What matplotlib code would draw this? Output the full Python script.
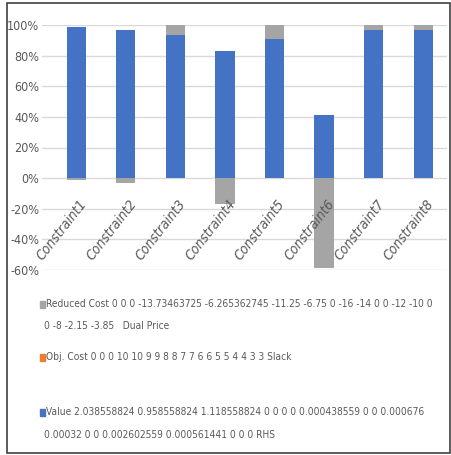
import numpy as np
import matplotlib
matplotlib.use("Agg")
import matplotlib.pyplot as plt
from matplotlib.patches import Rectangle
from matplotlib import font_manager

# stacked percentages per constraint
categories = ["Constraint1", "Constraint2", "Constraint3", "Constraint4",
              "Constraint5", "Constraint6", "Constraint7", "Constraint8"]
value_pct = [99, 97, 93.5, 83, 91, 41, 97, 96.5]
reduced_pct = [-1, -3, 6.5, -17, 9, -59, 3, 3.5]
yticks = [-60, -40, -20, 0, 20, 40, 60, 80, 100]

legend_lines = [
    ("Reduced Cost 0 0 0 -13.73463725 -6.265362745 -11.25 -6.75 0 -16 -14 0 0 -12 -10 0",
     "0 -8 -2.15 -3.85   Dual Price", "#A5A5A5"),
    ("Obj. Cost 0 0 0 10 10 9 9 8 8 7 7 6 6 5 5 4 4 3 3 Slack", None, "#ED7D31"),
    ("Value 2.038558824 0.958558824 1.118558824 0 0 0 0 0.000438559 0 0 0.000676",
     "0.00032 0 0 0.002602559 0.000561441 0 0 0 RHS", "#4472C4"),
]

W, H = 452, 455
grey_txt = "#595959"

names = {f.name for f in font_manager.fontManager.ttflist}
font = "Liberation Sans Narrow" if "Liberation Sans Narrow" in names else "DejaVu Sans"
fp = dict(fontfamily=font, fontstretch="condensed")

fig = plt.figure(figsize=(W / 100, H / 100), dpi=100)
ax = fig.add_axes([42 / W, 1 - 270 / H, 405 / W, 245 / H])

x = np.arange(len(categories))
value = np.array(value_pct)
reduced = np.array(reduced_pct)
ax.bar(x, value, width=0.39, color="#4472C4", zorder=3)
ax.bar(x, reduced, width=0.39, bottom=np.where(reduced > 0, value, 0),
       color="#A5A5A5", zorder=3)

ax.set_xlim(-0.69, 7.48)
ax.set_ylim(-60, 100)
ax.set_yticks(yticks)
ax.set_yticklabels([f"{v}%" for v in yticks], fontsize=9, color=grey_txt, **fp)
ax.set_xticks([])
ax.tick_params(axis="y", length=0, pad=2)
ax.grid(axis="y", color="#D9D9D9", linewidth=1, zorder=0)
for s in ax.spines.values():
    s.set_visible(False)

for i, name in enumerate(categories):
    ax.text(i + 0.05, -12, name, rotation=52, rotation_mode="anchor",
            ha="right", va="top", fontsize=10,
            style="italic", color=grey_txt, zorder=4, **fp)

# legend drawn below the plot, one font size so the longest line fits
rows = [(304, 326), (357, None), (412, 435)]
fig.canvas.draw()
renderer = fig.canvas.get_renderer()

texts = []
for (first, second, col), (y1, y2) in zip(legend_lines, rows):
    fig.add_artist(Rectangle((40 / W, 1 - (y1 + 3.5) / H), 5.5 / W, 7 / H,
                             transform=fig.transFigure, color=col))
    texts.append(fig.text(46.5 / W, 1 - y1 / H, first, ha="left", va="center",
                          fontsize=9, color=grey_txt, **fp))
    if second:
        texts.append(fig.text(44 / W, 1 - y2 / H, second, ha="left", va="center",
                              fontsize=9, color=grey_txt, **fp))

widest = max(t.get_window_extent(renderer).width for t in texts)
size = min(9, 9 * (433 - 46.5) / widest)
for t in texts:
    t.set_fontsize(size)

# outer frame
fig.add_artist(Rectangle((7 / W, 2.5 / H), 443 / W, 450 / H, transform=fig.transFigure,
                         fill=False, edgecolor="#404040", linewidth=1.2))

fig.savefig("out.png", dpi=100)
